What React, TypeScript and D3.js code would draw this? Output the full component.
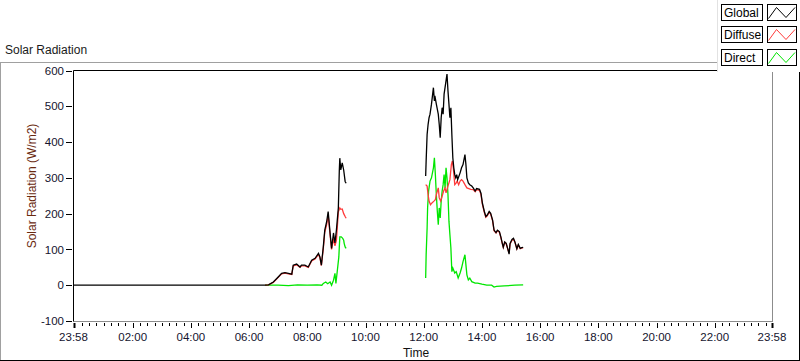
import React from "react";
import * as d3 from "d3";

// time in minutes from midnight (domain starts at 23:58 of previous day = -2)
const xTickMinutes = [-2, 120, 240, 360, 480, 600, 720, 840, 960, 1080, 1200, 1320, 1438];
const xTickLabels = ["23:58", "02:00", "04:00", "06:00", "08:00", "10:00", "12:00", "14:00", "16:00", "18:00", "20:00", "22:00", "23:58"];
const yTicks = [-100, 0, 100, 200, 300, 400, 500, 600];

const seriesNames = ["Global", "Diffuse", "Direct"];
const seriesColors = ["#000000", "#ff3b3b", "#00e600"];

// Global radiation, morning segment [minute, W/m2]
const globalAM: [number, number][] = [
  [-2, 0], [393, 0], [400, 1], [410, 9], [420, 23], [427, 33], [434, 35], [441, 33], [448, 31],
  [451, 56], [458, 59], [465, 51], [468, 56], [475, 56], [482, 51], [489, 70], [496, 75],
  [503, 89], [506, 79], [509, 56], [513, 107], [516, 154], [520, 178], [523, 206], [527, 146],
  [530, 103], [534, 146], [537, 118], [540, 154], [544, 216], [546, 322], [547, 355], [549, 322],
  [552, 342], [555, 322], [558, 290], [560, 285],
];
// Global radiation, afternoon segment
const globalPM: [number, number][] = [
  [724, 305], [725, 348], [727, 421], [729, 449], [731, 468], [733, 478], [736, 506], [740, 552],
  [742, 515], [743, 529], [746, 506], [750, 478], [752, 449], [754, 412], [756, 468], [758, 496],
  [760, 478], [762, 534], [765, 562], [768, 590], [770, 543], [772, 506], [774, 468], [776, 496],
  [778, 421], [780, 356], [782, 328], [784, 309], [786, 300], [788, 309], [790, 295], [795, 314],
  [798, 328], [801, 337], [805, 365], [807, 337], [809, 300], [812, 286], [815, 281], [819, 277],
  [822, 272], [826, 263], [829, 270], [835, 268], [838, 257], [841, 229], [845, 206], [848, 192],
  [851, 196], [855, 206], [858, 201], [862, 182], [865, 154], [869, 147], [872, 154], [876, 150],
  [879, 135], [882, 117], [884, 106], [887, 121], [890, 117], [893, 103], [896, 87], [898, 117],
  [902, 128], [905, 131], [908, 121], [912, 102], [915, 114], [919, 103], [922, 105], [925, 106],
];
const diffuseAM: [number, number][] = [
  [393, 0], [400, 1], [410, 8], [420, 22], [427, 32], [434, 34], [441, 32], [448, 30], [451, 54],
  [458, 57], [465, 50], [468, 54], [475, 54], [482, 50], [489, 68], [496, 73], [503, 86], [506, 77],
  [509, 55], [513, 103], [516, 148], [520, 170], [523, 196], [527, 140], [530, 100], [534, 130],
  [537, 110], [540, 125], [544, 205], [547, 216], [549, 212], [552, 213], [555, 200], [558, 192],
  [560, 187],
];
const diffusePM: [number, number][] = [
  [724, 281], [727, 277], [729, 253], [731, 235], [734, 225], [737, 230], [741, 235], [744, 239],
  [746, 253], [750, 272], [752, 244], [755, 235], [758, 249], [761, 263], [764, 272], [766, 258],
  [770, 277], [774, 295], [777, 337], [779, 347], [781, 328], [784, 281], [787, 286], [789, 291],
  [792, 281], [795, 291], [798, 295], [801, 291], [805, 281], [809, 272], [813, 270], [817, 268],
  [822, 267], [826, 261], [829, 267], [835, 265], [838, 254], [841, 226], [845, 203], [848, 190],
  [851, 194], [855, 204], [858, 199], [862, 180], [865, 152], [869, 146], [872, 152], [876, 148],
  [879, 133], [882, 116], [884, 106], [887, 120], [890, 116], [893, 102], [896, 90], [898, 115],
  [902, 126], [905, 129], [908, 120], [912, 102], [915, 112], [919, 102], [922, 104], [925, 105],
];
const directAM: [number, number][] = [
  [393, 0], [420, 0], [441, -1], [460, 1], [480, 0], [500, 1], [510, 0], [513, 5], [518, 9],
  [522, 4], [527, 9], [530, 0], [534, 14], [537, 33], [539, 5], [542, 42], [545, 79], [547, 135],
  [550, 135], [553, 131], [555, 126], [556, 117], [558, 107], [560, 103],
];
const directPM: [number, number][] = [
  [724, 20], [725, 85], [727, 160], [728, 216], [730, 263], [733, 291], [736, 300], [740, 328],
  [742, 356], [744, 309], [746, 253], [748, 207], [750, 169], [752, 216], [754, 188], [756, 235],
  [758, 263], [760, 281], [762, 309], [764, 272], [766, 328], [768, 300], [770, 253], [772, 179],
  [774, 141], [776, 104], [778, 38], [780, 48], [784, 34], [787, 38], [791, 20], [795, 34],
  [798, 48], [801, 66], [805, 85], [807, 57], [809, 29], [812, 15], [815, 20], [819, 10],
  [826, 6], [831, 6], [840, 3], [850, 0], [860, 0], [865, -5], [870, -3], [886, -2], [908, 0],
  [925, 1],
];

const W = 800;
const H = 361;
const plot = { left: 73.5, right: 772.5, top: 70.5, bottom: 321 };

export default function App() {
  const x = d3.scaleLinear().domain([-2, 1438]).range([plot.left, 772]);
  const y = d3.scaleLinear().domain([-100, 600]).range([plot.bottom, plot.top]);
  const line = d3
    .line<[number, number]>()
    .x((d) => x(d[0]))
    .y((d) => y(d[1]));

  const minorTicks = d3.range(15, 1438, 15).filter((m) => m % 120 !== 0);
  const font = "'Liberation Sans', Arial, sans-serif";
  const tickColor = "#14142e";

  const segments: { data: [number, number][]; color: string }[] = [
    { data: directAM, color: seriesColors[2] },
    { data: directPM, color: seriesColors[2] },
    { data: diffuseAM, color: seriesColors[1] },
    { data: diffusePM, color: seriesColors[1] },
    { data: globalAM, color: seriesColors[0] },
    { data: globalPM, color: seriesColors[0] },
  ];

  return (
    <svg
      width={W}
      height={H}
      style={{ position: "absolute", left: 0, top: 0, display: "block", background: "#fff" }}
      fontFamily={font}
    >
      <rect x={0} y={0} width={W} height={H} fill="#ffffff" />
      {/* outer frame */}
      <line x1={0} x2={717} y1={62.5} y2={62.5} stroke="#a0a0a0" />
      <line x1={0.5} x2={0.5} y1={62} y2={361} stroke="#a0a0a0" />
      <line x1={0} x2={800} y1={360.5} y2={360.5} stroke="#000" />
      <line x1={799.5} x2={799.5} y1={72} y2={361} stroke="#000" />

      <text x={5} y={54} fontSize={12} fill="#1a1a1a">Solar Radiation</text>

      {/* plot border */}
      <line x1={plot.left} x2={772.5} y1={plot.top} y2={plot.top} stroke="#000" />
      <line x1={772.5} x2={772.5} y1={plot.top} y2={321.5} stroke="#8c8c8c" />
      <line x1={plot.left} x2={773} y1={321.5} y2={321.5} stroke="#8c8c8c" />
      <line x1={plot.left} x2={plot.left} y1={plot.top} y2={321.5} stroke="#000" />

      {/* y ticks */}
      {yTicks.map((v) => (
        <g key={v}>
          <line x1={66} x2={72} y1={Math.round(y(v)) + 0.5} y2={Math.round(y(v)) + 0.5} stroke="#000" />
          <text x={64} y={y(v)} dy="0.36em" textAnchor="end" fontSize={11.5} fill={tickColor}>
            {v}
          </text>
        </g>
      ))}
      {/* x ticks */}
      {minorTicks.map((m) => (
        <line key={"m" + m} x1={Math.round(x(m)) + 0.5} x2={Math.round(x(m)) + 0.5} y1={323} y2={326} stroke="#000" />
      ))}
      {xTickMinutes.map((m, i) => (
        <g key={m}>
          <line
            x1={Math.round(x(m)) + 0.5}
            x2={Math.round(x(m)) + 0.5}
            y1={323}
            y2={328}
            stroke="#000"
            strokeWidth={i === 0 || i === xTickMinutes.length - 1 ? 2 : 1}
          />
          <text x={x(m)} y={341} textAnchor="middle" fontSize={11.5} fill={tickColor}>
            {xTickLabels[i]}
          </text>
        </g>
      ))}

      <text
        transform={`translate(36,186) rotate(-90)`}
        textAnchor="middle"
        fontSize={12}
        fill="#6a2a10"
      >
        Solar Radiation (W/m2)
      </text>
      <text x={416} y={357} textAnchor="middle" fontSize={12} fill="#111">Time</text>

      {/* data */}
      <g fill="none" strokeWidth={1.3} strokeLinejoin="miter">
        {segments.map((s, i) => (
          <path key={i} d={line(s.data) || ""} stroke={s.color} />
        ))}
      </g>

      {/* legend */}
      <rect x={717} y={0} width={83} height={72} fill="#fff" />
      <line x1={717.5} x2={717.5} y1={0} y2={72} stroke="#e2e2e2" />
      {seriesNames.map((name, i) => {
        const top = Math.floor(4 + i * 22.5) + 0.5;
        const sx = 767.5;
        const zig = [
          [sx + 1, top + 14],
          [sx + 9, top + 3],
          [sx + 18.5, top + 13],
          [sx + 27.5, top + 3],
        ];
        return (
          <g key={name}>
            <rect x={721.5} y={top} width={41} height={16} fill="#fff" stroke="#000" />
            <text x={724} y={top + 12.5} fontSize={12} fill="#000">{name}</text>
            <rect x={sx} y={top} width={29} height={16} fill="#fff" stroke="#000" />
            <polyline points={zig.map((p) => p.join(",")).join(" ")} fill="none" stroke={seriesColors[i]} />
          </g>
        );
      })}
    </svg>
  );
}
